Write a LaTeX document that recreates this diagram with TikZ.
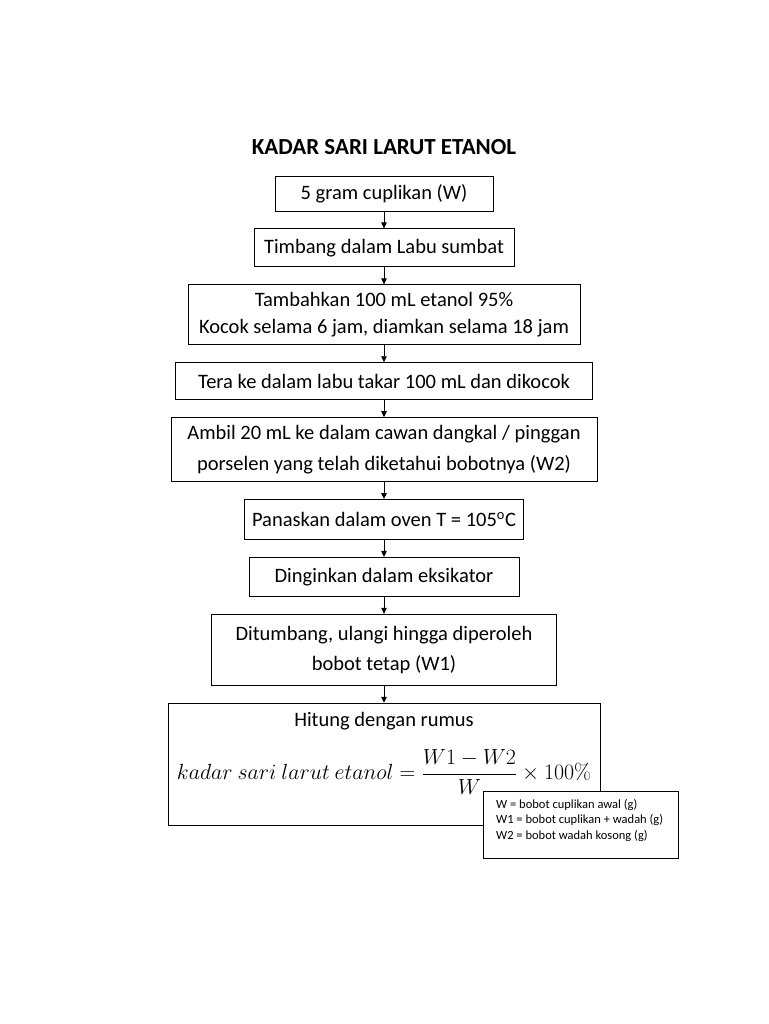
\documentclass[tikz,border=0pt]{standalone}
\usepackage{amsmath}
\usepackage[no-math]{fontspec}
\setmainfont{Carlito}
\usetikzlibrary{arrows.meta, positioning, calc}
\tikzset{
	langkah/.style={rectangle, draw=black, line width=0.9pt, align=center, inner sep=2pt, font=\fontsize{20.5}{27}\selectfont},
	panah/.style={-{Triangle[length=6pt, width=5.5pt]}, line width=0.9pt},
	ketbox/.style={rectangle, draw=black, line width=0.9pt, fill=white, minimum width=195pt, minimum height=67pt, anchor=north west},
}

\begin{document}
\begin{tikzpicture}[x=1pt, y=1pt, node distance=17pt]
	\useasboundingbox (0,0) rectangle (768,-1024);
	\node[font=\fontsize{23}{27}\selectfont\bfseries] (judul) at (384,-147) {KADAR SARI LARUT ETANOL};
	\node[langkah, minimum width=218pt, minimum height=35pt] (s1) at (384,-193.5) {5 gram cuplikan (W)};
	\node[langkah, below=of s1, minimum width=260pt, minimum height=38pt] (s2) {Timbang dalam Labu sumbat};
	\node[langkah, below=of s2, minimum width=392pt, minimum height=60pt] (s3) {Tambahkan 100 mL etanol 95\%\\ Kocok selama 6 jam, diamkan selama 18 jam};
	\node[langkah, below=of s3, minimum width=417pt, minimum height=37pt] (s4) {Tera ke dalam labu takar 100 mL dan dikocok};
	\node[langkah, below=of s4, minimum width=426pt, minimum height=64pt] (s5) {Ambil 20 mL ke dalam cawan dangkal / pinggan\\[4pt] porselen yang telah diketahui bobotnya (W2)};
	\node[langkah, below=of s5, minimum width=279pt, minimum height=40pt] (s6) {Panaskan dalam oven T = 105\textsuperscript{o}C};
	\node[langkah, below=of s6, minimum width=270pt, minimum height=39pt] (s7) {Dinginkan dalam eksikator};
	\node[langkah, below=of s7, minimum width=345pt, minimum height=71pt] (s8) {Ditumbang, ulangi hingga diperoleh\\[3pt] bobot tetap (W1)};
	\node[langkah, below=of s8, minimum width=432pt, minimum height=122pt] (s9) {};
	\node[font=\fontsize{20.5}{27}\selectfont] (hitung) at ($(s9.north)+(0,-18)$) {Hitung dengan rumus};
	\node[font=\fontsize{20.74}{26}\selectfont, scale=1.055, transform shape] (rumus) at ($(s9.center)+(0,-8)$)
		{$kadar\ sari\ larut\ etanol = \dfrac{W1-W2}{W}\times 100\%$};
	% arrows
	\draw[panah] (s1) -- (s2);
	\draw[panah] (s2) -- (s3);
	\draw[panah] (s3) -- (s4);
	\draw[panah] (s4) -- (s5);
	\draw[panah] (s5) -- (s6);
	\draw[panah] (s6) -- (s7);
	\draw[panah] (s7) -- (s8);
	\draw[panah] (s8) -- (s9);
	% keterangan
	\node[ketbox] (ket) at (483,-791) {};
	\node[anchor=north west, inner sep=0pt, align=left, font=\fontsize{12.5}{15.5}\selectfont] (kettext) at ($(ket.north west)+(13,-8)$)
		{W = bobot cuplikan awal (g)\\ W1 = bobot cuplikan + wadah (g)\\ W2 = bobot wadah kosong (g)};
\end{tikzpicture}
\end{document}
